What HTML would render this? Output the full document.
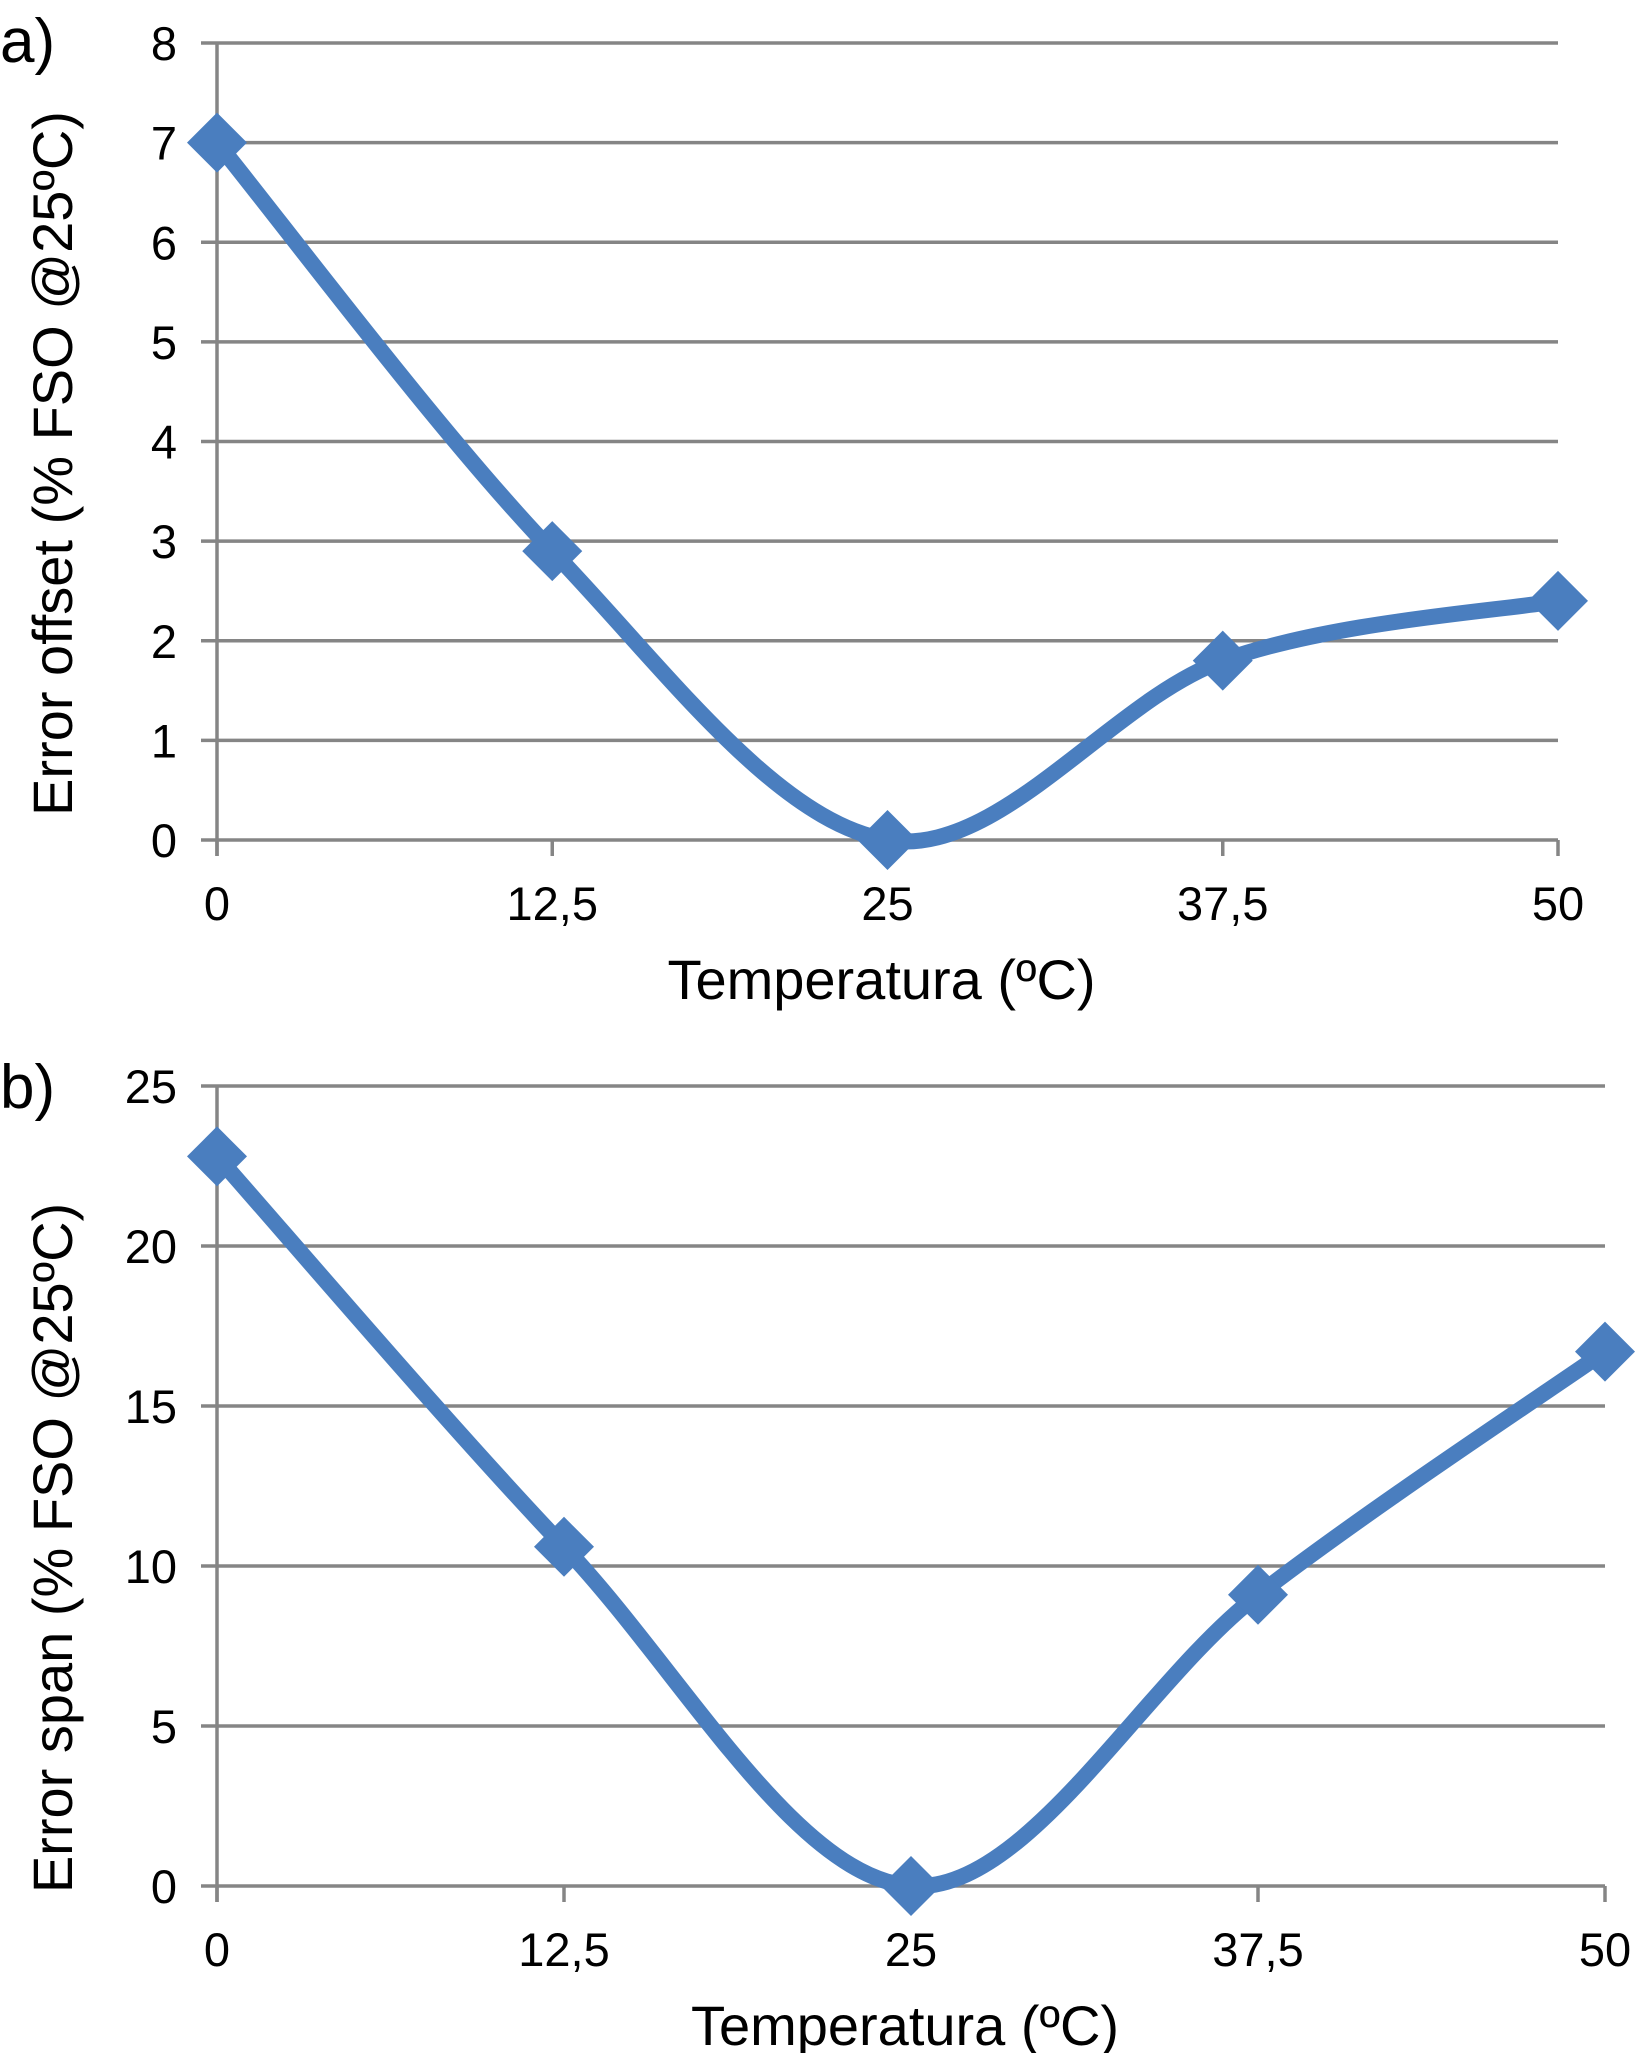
<!DOCTYPE html>
<html><head><meta charset="utf-8"><style>
html,body{margin:0;padding:0;background:#fff;}
svg{display:block;font-family:"Liberation Sans",sans-serif;}
</style></head><body>
<svg id="chart" width="1646" height="2053" viewBox="0 0 1646 2053">
<text x="0" y="62" font-size="62">a)</text>
<text x="0" y="1108" font-size="62">b)</text>
</svg>
<script>
const categories = [0, 12.5, 25, 37.5, 50];
const xTickLabels = ["0", "12,5", "25", "37,5", "50"];
const offsetValues = [7, 2.9, 0, 1.8, 2.4];
const spanValues = [22.8, 10.6, 0, 9.1, 16.7];
const offsetTicks = [0, 1, 2, 3, 4, 5, 6, 7, 8];
const spanTicks = [0, 5, 10, 15, 20, 25];

const NS = "http://www.w3.org/2000/svg";
const svg = document.getElementById('chart');
function mk(tag, attrs, parent) {
  const e = document.createElementNS(NS, tag);
  for (const k in attrs) e.setAttribute(k, attrs[k]);
  (parent || svg).appendChild(e);
  return e;
}

function panel(cfg) {
  const g = mk('g', {});
  
  
  const xs = v => cfg.x0 + (v - 0) / 50 * (cfg.x1 - cfg.x0);
  const ys = v => cfg.y0 - v / cfg.ymax * (cfg.y0 - cfg.y1);
  cfg.yTicks.forEach(t => {
    const y = ys(t);
    const l = mk('line', {x1: cfg.x0 - 16, x2: cfg.x1, y1: y, y2: y, stroke: '#858585', 'stroke-width': 3.5}, g);
    
    
    const tx = mk('text', {x: cfg.x0 - 40, y: y + 17, 'font-size': 47, 'text-anchor': 'end'}, g);
    
    
    tx.textContent = String(t);
  });
  const ya = mk('line', {x1: cfg.x0, x2: cfg.x0, y1: cfg.y1, y2: cfg.y0 + 16, stroke: '#858585', 'stroke-width': 3.5}, g);
  
  
  categories.forEach((c, i) => {
    const x = xs(c);
    const tk = mk('line', {x1: x, x2: x, y1: cfg.y0, y2: cfg.y0 + 16, stroke: '#858585', 'stroke-width': 3.5}, g);
    
    
    const tx = mk('text', {x: x, y: cfg.y0 + 80, 'font-size': 47, 'text-anchor': 'middle'}, g);
    
    
    tx.textContent = xTickLabels[i];
  });
  const xt = mk('text', {x: (cfg.x0 + cfg.x1) / 2 - 6, y: cfg.y0 + 159, 'font-size': 56, 'text-anchor': 'middle'}, g);
  
  
  xt.textContent = 'Temperatura (ºC)';
  const yc = (cfg.y0 + cfg.y1) / 2 + cfg.tshift;
  const yt = mk('text', {x: 0, y: 0, 'font-size': 56, 'text-anchor': 'middle', transform: `translate(72,${yc}) rotate(-90)`}, g);
  
  
  yt.textContent = cfg.ytitle;
  const pts = categories.map((c, i) => [xs(c), ys(cfg.values[i])]);
  let d = `M${pts[0][0]},${pts[0][1]}`;
  for (let i = 0; i < pts.length - 1; i++) {
    const p0 = pts[Math.max(0, i - 1)], p1 = pts[i], p2 = pts[i + 1], p3 = pts[Math.min(pts.length - 1, i + 2)];
    const c1 = [p1[0] + (p2[0] - p0[0]) / 6, p1[1] + (p2[1] - p0[1]) / 6];
    const c2 = [p2[0] - (p3[0] - p1[0]) / 6, p2[1] - (p3[1] - p1[1]) / 6];
    d += ` C${c1[0]},${c1[1]} ${c2[0]},${c2[1]} ${p2[0]},${p2[1]}`;
  }
  const path = mk('path', {d: d, fill: 'none', stroke: '#4a7ebf', 'stroke-width': 16, 'stroke-linejoin': 'round'}, g);
  
  
  const s = 30;
  pts.forEach(p => {
    const m = mk('polygon', {points: `${p[0]},${p[1]-s} ${p[0]+s},${p[1]} ${p[0]},${p[1]+s} ${p[0]-s},${p[1]}`, fill: '#4a7ebf'}, g);
    
    
  });
}

panel({name: 'chart-a-offset', x0: 217, x1: 1558, y0: 840, y1: 43, ymax: 8, yTicks: offsetTicks, values: offsetValues, ytitle: 'Error offset (% FSO @25ºC)', tshift: 22});
panel({name: 'chart-b-span', x0: 217, x1: 1605, y0: 1886, y1: 1086, ymax: 25, yTicks: spanTicks, values: spanValues, ytitle: 'Error span (% FSO @25ºC)', tshift: 62});
</script>
</body></html>
